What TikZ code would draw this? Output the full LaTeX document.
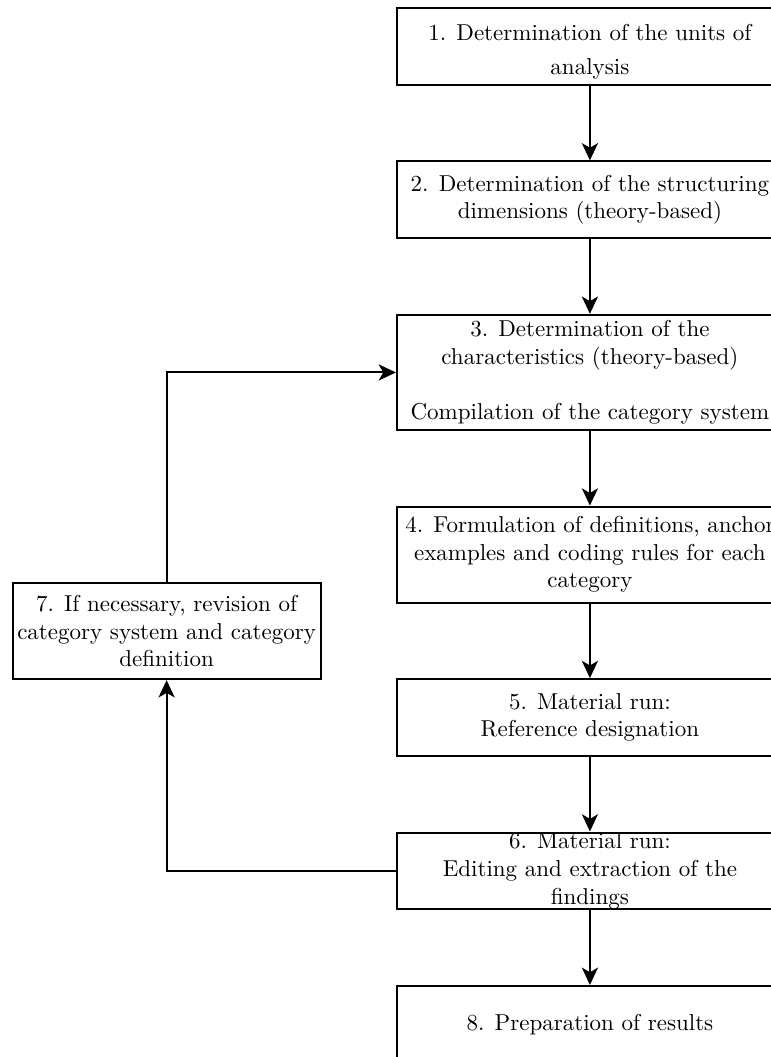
\documentclass[tikz,border=0pt]{standalone}
\usetikzlibrary{shapes, arrows.meta, positioning}
\usepackage{xcolor}
\definecolor{cBlock}{HTML}{FFFFFF}
\definecolor{cBlockLine}{HTML}{000000}
\definecolor{cBlockText}{HTML}{000000}
\definecolor{cLine}{HTML}{000000}
\tikzset{
  block/.style = {
    rectangle,
    draw=cBlockLine,
    fill=cBlock,
    text=cBlockText,
    line width=0.9pt,
    align=center,
    minimum width=167.8pt,
    minimum height=33.4pt,
    inner xsep=2pt,
    inner ysep=0pt
  },
  tall/.style = {
    minimum height=50.1pt
  },
  mid/.style = {
    minimum height=41.7pt
  },
  side/.style = {
    minimum width=133.9pt,
    minimum height=41.7pt
  },
  line/.style = {
    draw,
    line width=0.9pt,
    color=cLine,
    ->,
    >={Stealth[length=7.5pt,width=7pt,inset=2pt]},
  },
}
\begin{document}
\begin{tikzpicture}[node distance=32.4pt and 32.3pt]
    \useasboundingbox (0,0) rectangle (335.2pt,-459.6pt);
    \node [block, text height=24.8pt, text depth=0pt] (step-1) at (256.5pt,-20.2pt) {1. Determination of the units of\\[3pt]analysis};
    \node [block, below=of step-1] (step-2) {2. Determination of the structuring\\dimensions (theory-based)};
    \node [block, tall, below=of step-2] (step-3) {3. Determination of the\\characteristics (theory-based)\\[12pt]Compilation of the category system};
    \node [block, mid, below=of step-3] (step-4) {4. Formulation of definitions, anchor\\examples and coding rules for each\\category};
    \node [block, below=of step-4] (step-5) {5. Material run:\\Reference designation};
    \node [block, below=of step-5] (step-6) {6. Material run:\\Editing and extraction of the\\findings};
    \node [block, side, left=of step-4.south west, yshift=-12pt] (step-7) {7. If necessary, revision of\\category system and category\\definition};
    \node [block, below=of step-6] (step-8) {8. Preparation of results};
    \path [line] (step-1) -- (step-2);
    \path [line] (step-2) -- (step-3);
    \path [line] (step-3) -- (step-4);
    \path [line] (step-4) -- (step-5);
    \path [line] (step-5) -- (step-6);
    \path [line] (step-6) -- (step-8);
    \path [line] (step-6.west) -| (step-7.south);
    \path [line] (step-7.north) |- (step-3.west);
  \end{tikzpicture}
\end{document}
